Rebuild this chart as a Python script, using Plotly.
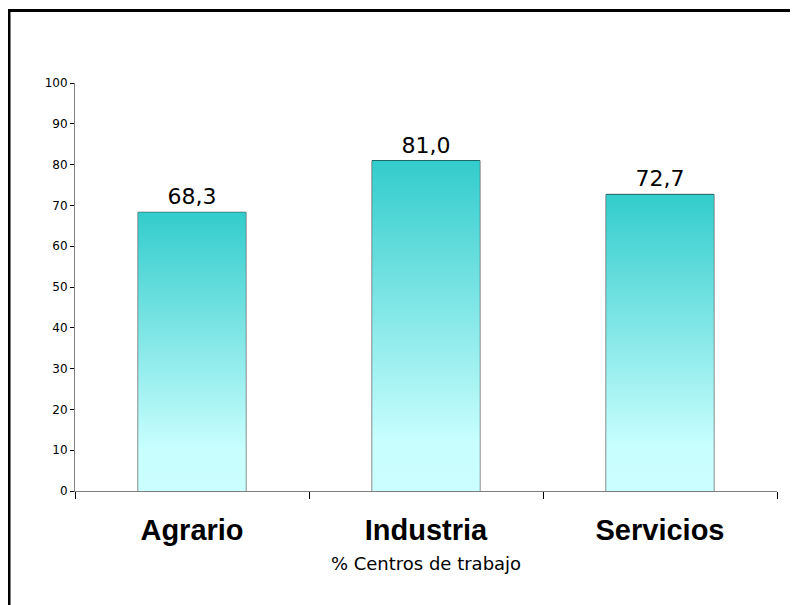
import plotly.graph_objects as go

categories = ["Agrario", "Industria", "Servicios"]
values = [68.3, 81.0, 72.7]
y_ticks = [0, 10, 20, 30, 40, 50, 60, 70, 80, 90, 100]
x_title = "% Centros de trabajo"

BAR_W = 0.46
positions = list(range(len(categories)))

fig = go.Figure()

# gradient fills for each bar
for i, v in zip(positions, values):
    xs = [i - BAR_W / 2, i + BAR_W / 2, i + BAR_W / 2, i - BAR_W / 2, i - BAR_W / 2]
    ys = [0, 0, v, v, 0]
    fig.add_trace(go.Scatter(
        x=xs, y=ys, mode="lines", fill="toself",
        line=dict(width=0, color="rgba(0,0,0,0)"),
        fillgradient=dict(type="vertical",
                          colorscale=[[0, "#CCFFFF"], [0.15, "#C8FEFE"], [1, "#33CCCC"]],
                          start=0, stop=v),
        hoverinfo="skip", showlegend=False,
    ))

# bar outlines + labels
fig.add_trace(go.Bar(
    x=positions, y=values, width=BAR_W,
    marker=dict(color="rgba(0,0,0,0)", line=dict(color="black", width=1)),
    texttemplate="%{y:.1f}", textposition="outside",
    textfont=dict(family="DejaVu Sans", size=22, color="black"),
    cliponaxis=False, showlegend=False,
))

# page body adds an 8px offset, so the figure is 8px smaller and shifted
W, H = 790, 597
L, T = 67, 75
PW, PH = 702, 408

fig.update_layout(
    width=W, height=H,
    margin=dict(l=L, r=W - L - PW, t=T, b=H - T - PH),
    paper_bgcolor="white", plot_bgcolor="white",
    separators=",.",
    showlegend=False,
    xaxis=dict(
        range=[-0.5, 2.5], tickvals=positions, ticktext=categories,
        ticks="", showgrid=False, zeroline=False,
        showline=True, linecolor="#7f7f7f", linewidth=1,
        tickfont=dict(family="Liberation Sans", size=29, color="black", weight="bold"),
        ticklabelstandoff=13,
        minor=dict(tickvals=[-0.5, 0.5, 1.5, 2.5], ticks="outside", ticklen=7,
                   tickcolor="black", tickwidth=1, showgrid=False),
        title=dict(text=x_title, font=dict(family="DejaVu Sans", size=18, color="black"),
                   standoff=12),
        fixedrange=True,
    ),
    yaxis=dict(
        range=[0, 100], tickvals=y_ticks, ticks="outside", ticklen=4,
        tickcolor="black", showgrid=False, zeroline=False,
        showline=True, linecolor="#7f7f7f", linewidth=1,
        tickfont=dict(family="DejaVu Sans", size=12, color="black"),
        fixedrange=True,
    ),
    shapes=[dict(type="rect", xref="paper", yref="paper",
                 x0=(1.0 - L) / PW, x1=(W + 40 - L) / PW,
                 y0=-(H + 40 - T - PH) / PH, y1=(PH + T - 2.5) / PH,
                 line=dict(color="black", width=3), fillcolor="rgba(0,0,0,0)",
                 layer="above")],
)

fig.write_html("out.html")
